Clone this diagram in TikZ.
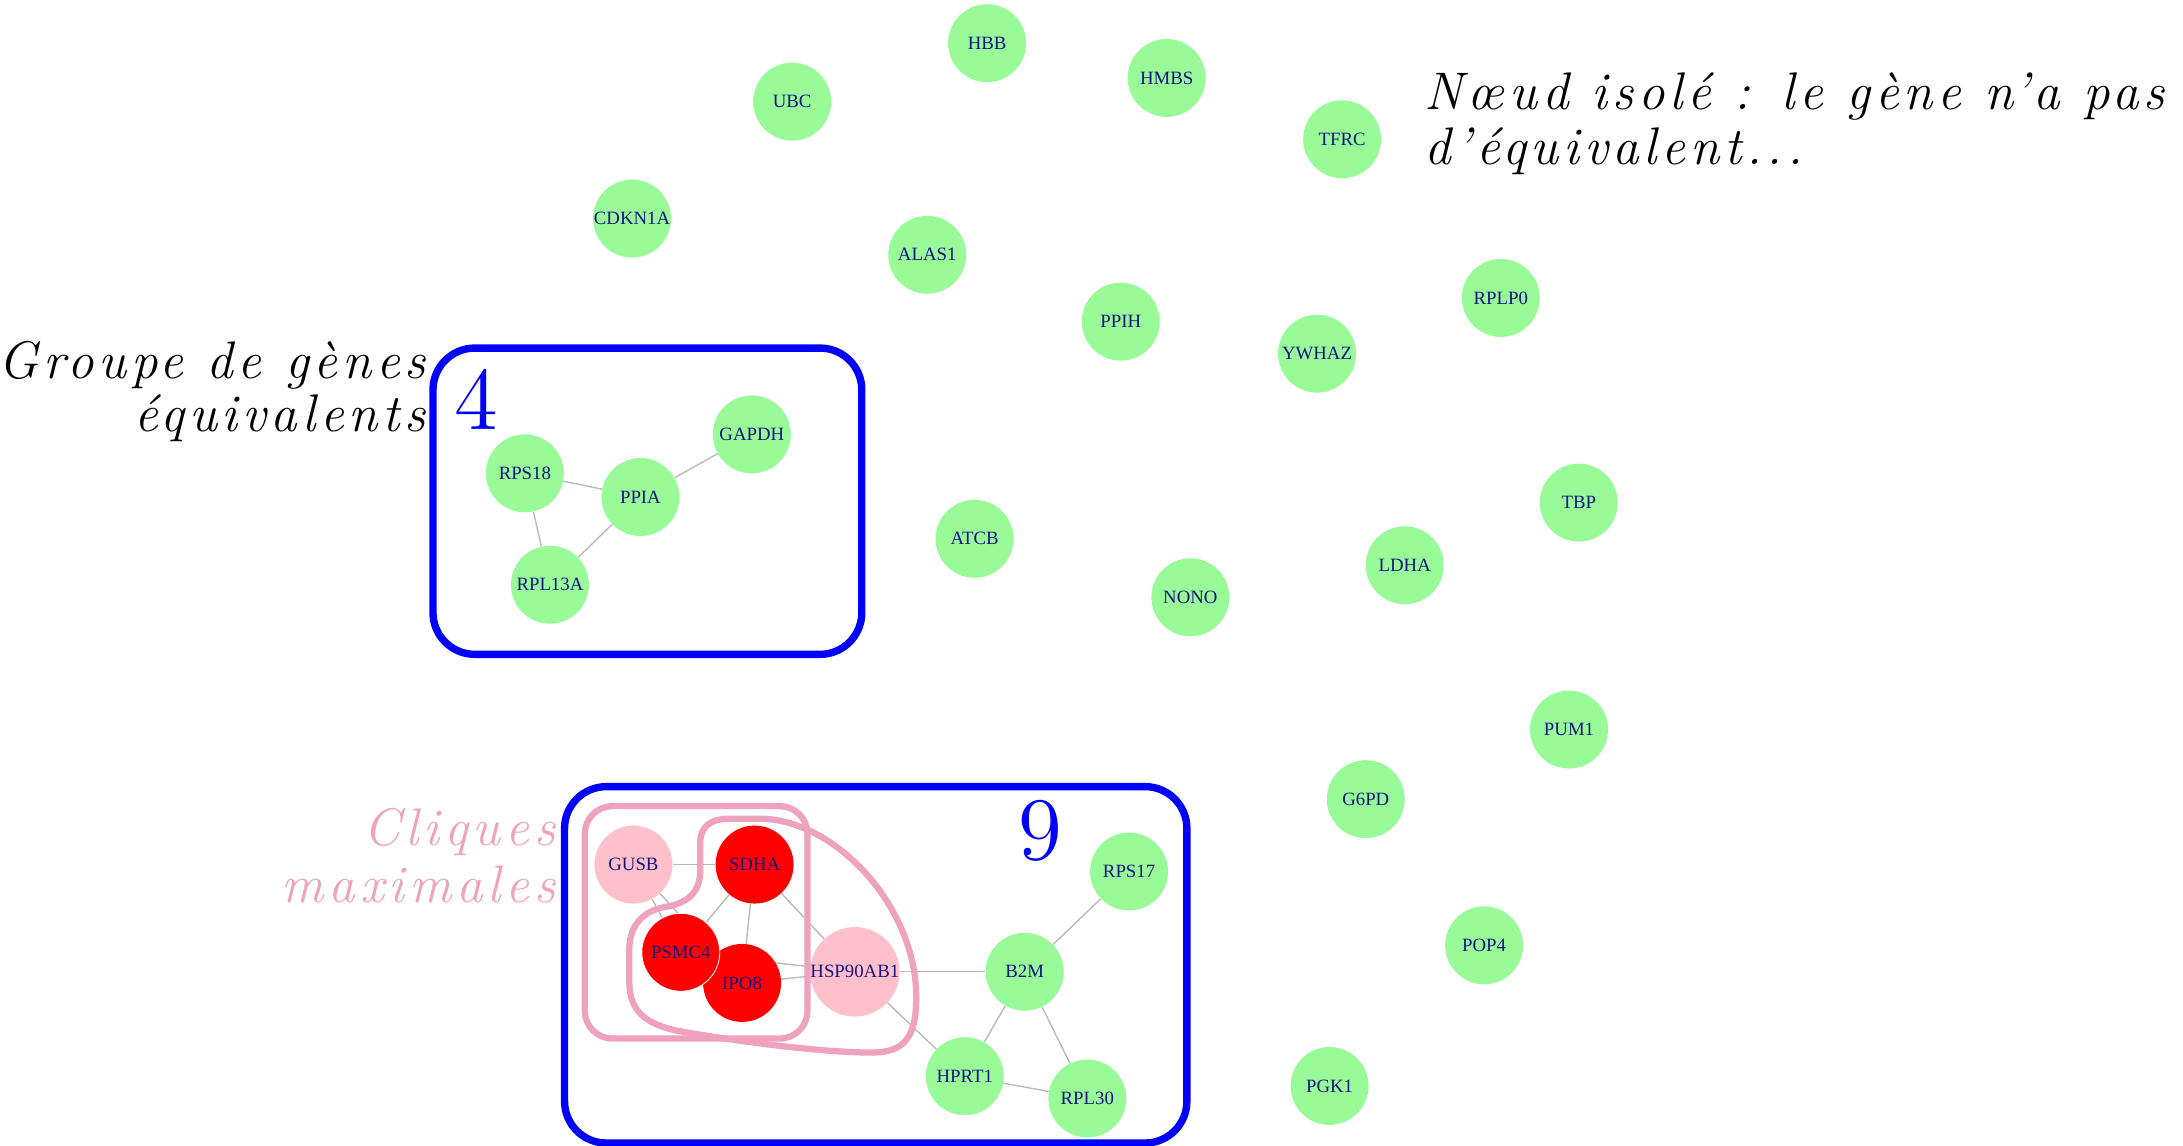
\documentclass[tikz,border=0pt]{standalone}
\usepackage{fontspec}
\newfontfamily\labfont{Liberation Serif}
\newfontfamily\annfont{lmroman12-italic.otf}[LetterSpace=9]
\newfontfamily\numfont{lmroman12-regular.otf}
\definecolor{genegreen}{RGB}{152,251,152}
\definecolor{genepink}{RGB}{255,192,203}
\definecolor{genered}{RGB}{255,0,0}
\definecolor{labelblue}{RGB}{20,20,130}
\definecolor{edgegray}{RGB}{185,185,185}
\definecolor{cliquepink}{RGB}{238,162,190}
\definecolor{groupblue}{RGB}{0,0,255}
\pgfdeclarelayer{edges}
\pgfsetlayers{edges,main}
\tikzset{
  gene/.style={circle, minimum size=56pt, inner sep=0pt, fill=genegreen,
    text=labelblue, font=\labfont\fontsize{13.5}{13.5}\selectfont},
  cliquegene/.style={gene, fill=genepink},
  coregene/.style={gene, fill=genered},
  link/.style={draw=edgegray, line width=1pt},
  groupbox/.style={draw=groupblue, line width=5.3pt, rounded corners=30pt},
  cliquebox/.style={draw=cliquepink, line width=4.5pt},
  annot/.style={font=\annfont\fontsize{38}{44}\selectfont, inner sep=0pt},
  groupnum/.style={text=groupblue, font=\numfont\fontsize{64}{64}\selectfont, inner sep=0pt}
}
\begin{document}
\begin{tikzpicture}[x=1pt,y=-1pt]
\useasboundingbox (0,0) rectangle (1568,823);

% isolated genes
\node[gene] (HBB) at (709,31) {HBB};
\node[gene] (UBC) at (569,73) {UBC};
\node[gene] (HMBS) at (838,56) {HMBS};
\node[gene] (TFRC) at (964,100) {TFRC};
\node[gene] (CDKN1A) at (454,157) {CDKN1A};
\node[gene] (ALAS1) at (666,183) {ALAS1};
\node[gene] (PPIH) at (805,231) {PPIH};
\node[gene] (YWHAZ) at (946,254) {YWHAZ};
\node[gene] (RPLP0) at (1078,214) {RPLP0};
\node[gene] (TBP) at (1134,361) {TBP};
\node[gene] (LDHA) at (1009,406) {LDHA};
\node[gene] (NONO) at (855,429) {NONO};
\node[gene] (ATCB) at (700,387) {ATCB};
\node[gene] (PUM1) at (1127,524) {PUM1};
\node[gene] (G6PD) at (981,574) {G6PD};
\node[gene] (POP4) at (1066,679) {POP4};
\node[gene] (PGK1) at (955,780) {PGK1};

% group of four
\node[gene] (GAPDH) at (540,312) {GAPDH};
\node[gene] (RPS18) at (377,340) {RPS18};
\node[gene] (PPIA) at (460,357) {PPIA};
\node[gene] (RPL13A) at (395,420) {RPL13A};

% group of nine (PSMC4 drawn after IPO8 so that it lies on top)
\node[cliquegene] (GUSB) at (455,621) {GUSB};
\node[coregene] (SDHA) at (542,621) {SDHA};
\node[coregene] (IPO8) at (533,706) {IPO8};
\node[coregene, draw=white, line width=0.6pt] (PSMC4) at (489,684) {PSMC4};
\node[cliquegene] (HSP90AB1) at (614,698) {HSP90AB1};
\node[gene] (B2M) at (736,698) {B2M};
\node[gene] (RPS17) at (811,626) {RPS17};
\node[gene] (HPRT1) at (693,773) {HPRT1};
\node[gene] (RPL30) at (781,789) {RPL30};

% edges, kept behind the nodes
\begin{pgfonlayer}{edges}
\path[link] (RPS18) -- (PPIA);
\path[link] (RPS18) -- (RPL13A);
\path[link] (PPIA) -- (RPL13A);
\path[link] (PPIA) -- (GAPDH);
\path[link] (GUSB) -- (SDHA);
\path[link] (GUSB) -- (PSMC4);
\path[link] (GUSB) -- (IPO8);
\path[link] (SDHA) -- (PSMC4);
\path[link] (SDHA) -- (IPO8);
\path[link] (SDHA) -- (HSP90AB1);
\path[link] (PSMC4) -- (HSP90AB1);
\path[link] (IPO8) -- (HSP90AB1);
\path[link] (HSP90AB1) -- (B2M);
\path[link] (HSP90AB1) -- (HPRT1);
\path[link] (B2M) -- (RPS17);
\path[link] (B2M) -- (HPRT1);
\path[link] (B2M) -- (RPL30);
\path[link] (HPRT1) -- (RPL30);
\end{pgfonlayer}

% maximal cliques
\draw[cliquebox, rounded corners=20pt] (420,579) rectangle (580,746);
\draw[cliquebox] (503,625) -- (503,605)
  .. controls (503,593) and (511,588) .. (525,588) -- (545,588)
  .. controls (600,588) and (656,650) .. (658,712)
  .. controls (659,745) and (650,756) .. (626,756)
  .. controls (590,756) and (530,748) .. (490,741)
  .. controls (462,736) and (452,725) .. (452,705) -- (452,682)
  .. controls (452,662) and (465,653) .. (480,651)
  .. controls (495,648) and (503,640) .. (503,625) -- cycle;

% groups of equivalent genes
\draw[groupbox] (311,250) rectangle (619,470);
\draw[groupbox] (405.5,565) rectangle (852.5,821);
\node[groupnum] (n4) at (342,287) {4};
\node[groupnum] (n9) at (747,597) {9};

% annotations
\node[annot, anchor=base east] (grp1) at (306,272) {Groupe de gènes};
\node[annot, anchor=base east] (grp2) at (306,310) {équivalents};
\node[annot, anchor=base east, text=cliquepink] (clq1) at (399,607) {Cliques};
\node[annot, anchor=base east, text=cliquepink] (clq2) at (399,648) {maximales};
\node[annot, anchor=base west] (iso1) at (1023,79) {Nœud isolé : le gène n’a pas};
\node[annot, anchor=base west] (iso2) at (1023,118) {d’équivalent...};
\end{tikzpicture}
\end{document}
